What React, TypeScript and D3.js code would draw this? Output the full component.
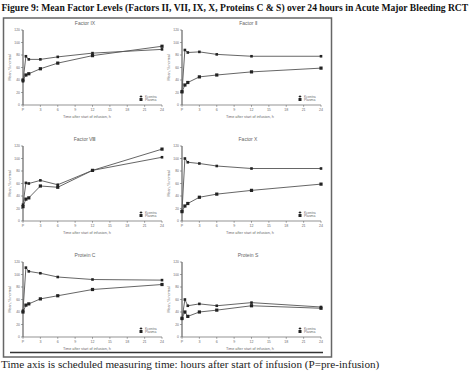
import React, { useLayoutEffect, useRef, useState } from 'react'
import * as d3 from 'd3'

// time points: P (pre-infusion) then hours after start of infusion
const hours = [0, 0.5, 1, 3, 6, 12, 24]
const xTicks = [0, 3, 6, 9, 12, 15, 18, 21, 24]
const yTicks = [0, 20, 40, 60, 80, 100, 120]

const panelTitles = ['Factor IX', 'Factor Ⅱ', 'Factor Ⅷ', 'Factor X', 'Protein C', 'Protein S']

const kcentra = [
	[38, 78, 73, 73, 77, 83, 89],
	[22, 88, 84, 85, 81, 78, 78],
	[26, 61, 60, 65, 58, 81, 102],
	[16, 100, 94, 92, 88, 84, 84],
	[42, 111, 105, 102, 96, 92, 91],
	[29, 60, 50, 53, 50, 55, 48],
]
const plasma = [
	[40, 48, 50, 58, 67, 79, 94],
	[21, 32, 36, 45, 48, 53, 59],
	[23, 35, 37, 56, 54, 81, 115],
	[15, 24, 28, 38, 43, 49, 59],
	[40, 51, 53, 61, 66, 76, 84],
	[30, 40, 33, 40, 43, 50, 46],
]

const colLeft = [23, 182]
const colTitleX = [85, 248]
const rowBase = [105, 221, 337]
const plotW = 139
const plotH = 75

const lineColor = '#555'
const textColor = '#6a6a6a'
const sans = 'Liberation Sans, Arial, sans-serif'
const serif = 'Liberation Serif, Times New Roman, serif'

// squeezes a text horizontally to a given width (the scan is condensed)
const FitText = ({ x, y, width, children, ...rest }) => {
	const ref = useRef<SVGTextElement>(null)
	const [sx, setSx] = useState(1)
	useLayoutEffect(() => {
		const w = ref.current ? ref.current.getComputedTextLength() : 0
		if (w > 0) setSx(width / w)
	}, [width])
	return (
		<text ref={ref} transform={`translate(${x},${y}) scale(${sx},1)`} {...rest}>{children}</text>
	)
}

const Panel = ({ idx }) => {
	const col = idx % 2
	const row = Math.floor(idx / 2)
	const left = colLeft[col]
	const base = rowBase[row]
	const x = d3.scaleLinear().domain([0, 24]).range([left, left + plotW])
	const y = d3.scaleLinear().domain([0, 120]).range([base, base - plotH])
	const line = d3.line<number>().x((d, i) => x(hours[i])).y(d => y(d))

	return (
		<g>
			<text x={colTitleX[col]} y={y(120) - 5.5} fontSize={5} fill="#666" textAnchor="middle" fontFamily={sans}>{panelTitles[idx]}</text>
			{/* y axis */}
			<line x1={left} x2={left} y1={y(0)} y2={y(120)} stroke="#666" strokeWidth={1.2} />
			{yTicks.map(t => (
				<g key={t}>
					<line x1={left - 2} x2={left} y1={y(t)} y2={y(t)} stroke="#666" strokeWidth={0.6} />
					<text x={left - 3} y={y(t) + 1.2} fontSize={3.4} fill={textColor} textAnchor="end" fontFamily={sans}>{t}</text>
				</g>
			))}
			<text transform={`translate(${left - 12},${y(60)}) rotate(-90)`} fontSize={3.6} fill={textColor} textAnchor="middle" fontFamily={sans}>Mean, % normal</text>
			{/* x axis */}
			<line x1={left} x2={x(24)} y1={y(0)} y2={y(0)} stroke="#666" strokeWidth={0.7} />
			{xTicks.map(t => (
				<g key={t}>
					<line x1={x(t)} x2={x(t)} y1={y(0)} y2={y(0) + 1.8} stroke="#666" strokeWidth={0.6} />
					<text x={x(t)} y={y(0) + 5.5} fontSize={3.6} fill={textColor} textAnchor="middle" fontFamily={sans}>{t === 0 ? 'P' : t}</text>
				</g>
			))}
			<text x={colTitleX[col] + 2} y={y(0) + 13} fontSize={3.8} fill={textColor} textAnchor="middle" fontFamily={sans}>Time after start of infusion, h</text>
			{/* series */}
			<path d={line(plasma[idx])} fill="none" stroke={lineColor} strokeWidth={0.9} />
			<path d={line(kcentra[idx])} fill="none" stroke={lineColor} strokeWidth={0.9} />
			{plasma[idx].map((d, i) => (
				<rect key={'p' + i} x={x(hours[i]) - 1.6} y={y(d) - 1.6} width={3.2} height={3.2} fill="#222" />
			))}
			{kcentra[idx].map((d, i) => (
				<rect key={'k' + i} x={x(hours[i]) - 1.3} y={y(d) - 1.3} width={2.6} height={2.6} fill="#222" />
			))}
			{/* legend */}
			<circle cx={left + 118} cy={base - 8.5} r={1.1} fill="#222" />
			<line x1={left + 116.5} x2={left + 119.5} y1={base - 8.5} y2={base - 8.5} stroke="#222" strokeWidth={0.5} />
			<text x={left + 122} y={base - 7.3} fontSize={3.4} fill={textColor} fontFamily={sans}>Kcentra</text>
			<rect x={left + 116.5} y={base - 7} width={3} height={3} fill="#222" />
			<text x={left + 122} y={base - 4.3} fontSize={3.4} fill={textColor} fontFamily={sans}>Plasma</text>
		</g>
	)
}

export default function App() {
	return (
		<div style={{ position: 'absolute', left: 0, top: 0 }}>
			<svg width={474} height={375} style={{ display: 'block', background: '#fff' }}>
				<FitText x={1.5} y={10.5} width={467} fontSize={10} fontWeight="bold" fontFamily={serif} fill="#111">
					Figure 9: Mean Factor Levels (Factors II, VII, IX, X, Proteins C &amp; S) over 24 hours in Acute Major Bleeding RCT
				</FitText>
				<rect x={3.5} y={18} width={328} height={339} fill="none" stroke="#666" strokeWidth={1.5} />
				{panelTitles.map((t, i) => <Panel key={t} idx={i} />)}
				<line x1={10} x2={323} y1={352.5} y2={352.5} stroke="#333" strokeWidth={1.3} />
				<FitText x={1} y={367.5} width={379} fontSize={10.5} fontFamily={serif} fill="#222">
					Time axis is scheduled measuring time: hours after start of infusion (P=pre-infusion)
				</FitText>
			</svg>
		</div>
	)
}
